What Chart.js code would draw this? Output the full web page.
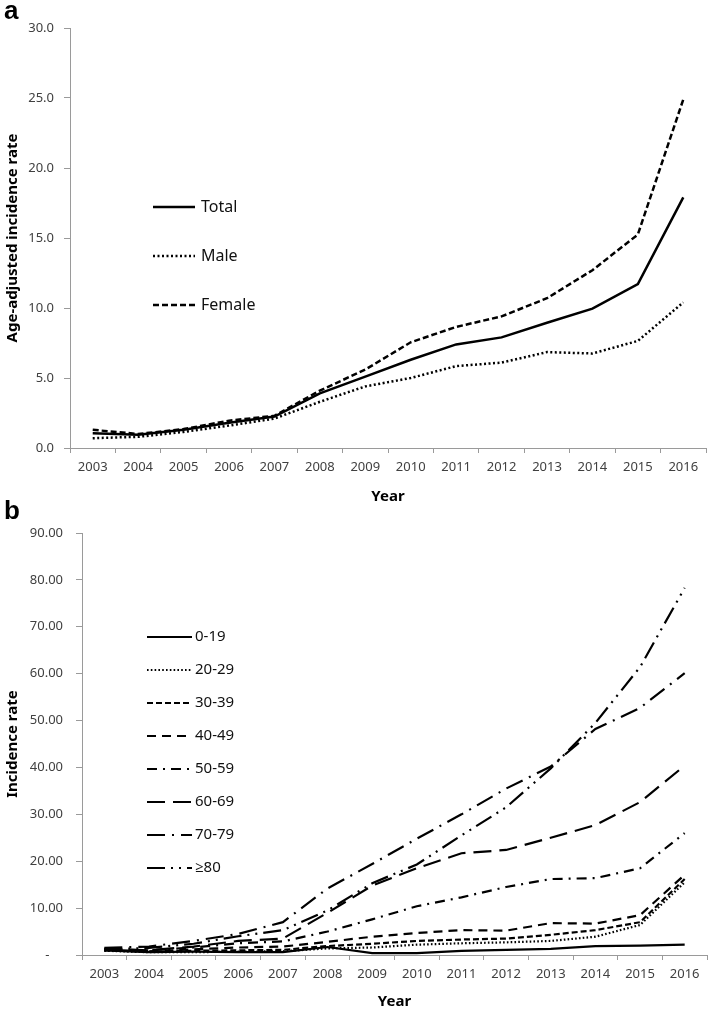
<!DOCTYPE html>
<html>
<head>
<meta charset="utf-8">
<script src="https://cdn.jsdelivr.net/npm/chart.js@4/dist/chart.umd.min.js"></script>
<style>
  html, body { margin:0; padding:0; background:#fff; }
  body { width:709px; height:1011px; position:relative; overflow:hidden; }
  canvas { position:absolute; left:0; }
  #ca { top:0; }
  #cb { top:500px; }
  .panel { position:absolute; left:4px; font-family:"Liberation Sans", Arial, sans-serif; font-weight:bold; font-size:26px; color:#000; line-height:1; }
</style>
</head>
<body>
<canvas id="ca" width="709" height="510" style="width:709px;height:510px"></canvas>
<canvas id="cb" width="709" height="511" style="width:709px;height:511px"></canvas>
<div class="panel" style="top:-3px">a</div>
<div class="panel" style="top:497px">b</div>
<script>
// ---------- Data ----------
const years = ['2003','2004','2005','2006','2007','2008','2009','2010','2011','2012','2013','2014','2015','2016'];

// Panel a: age-adjusted incidence rate
const sexLabels = ['Total','Male','Female'];
const totalRate  = [1.05, 0.95, 1.3, 1.8, 2.25, 3.9, 5.1, 6.3, 7.4, 7.9, 8.95, 9.95, 11.7, 17.9];
const maleRate   = [0.7, 0.8, 1.15, 1.6, 2.1, 3.3, 4.4, 5.0, 5.85, 6.1, 6.85, 6.75, 7.65, 10.4];
const femaleRate = [1.3, 1.0, 1.35, 1.95, 2.3, 4.1, 5.6, 7.55, 8.65, 9.4, 10.7, 12.7, 15.25, 24.9];
const aTicks = [0, 5, 10, 15, 20, 25, 30];

// Panel b: incidence rate by age group
const ageLabels = ['0-19','20-29','30-39','40-49','50-59','60-69','70-79','\u226580'];
const age0_19  = [1.0, 0.6, 0.7, 0.6, 0.6, 1.7, 0.4, 0.4, 0.9, 1.1, 1.3, 1.9, 2.0, 2.2];
const age20_29 = [0.9, 0.6, 0.6, 0.7, 0.8, 1.4, 1.6, 2.2, 2.5, 2.7, 3.0, 3.9, 6.4, 15.5];
const age30_39 = [1.0, 0.7, 0.9, 1.0, 1.1, 1.9, 2.4, 3.0, 3.3, 3.5, 4.3, 5.3, 7.0, 16.2];
const age40_49 = [1.1, 0.8, 1.2, 1.6, 1.8, 2.8, 3.9, 4.7, 5.3, 5.2, 6.8, 6.7, 8.5, 17.1];
const age50_59 = [1.2, 1.0, 1.6, 2.5, 2.9, 5.0, 7.6, 10.4, 12.3, 14.5, 16.2, 16.4, 18.5, 26.0];
const age60_69 = [1.3, 1.0, 1.8, 3.0, 3.5, 9.0, 14.8, 18.5, 21.7, 22.4, 25.0, 27.7, 32.6, 40.4];
const age70_79 = [1.5, 1.8, 3.0, 4.5, 7.0, 14.2, 19.4, 24.8, 30.0, 35.5, 40.2, 48.2, 52.7, 60.1];
const age80p   = [1.2, 1.5, 2.4, 4.0, 5.3, 9.5, 15.3, 19.3, 25.5, 31.5, 39.8, 49.5, 61.4, 78.3];
const bTicks = [0, 10, 20, 30, 40, 50, 60, 70, 80, 90];

// ---------- Helpers ----------
const tickFont = { family: '"Noto Sans", "Open Sans", sans-serif', size: 13 };
const titleFont = { family: '"Noto Sans", "Open Sans", sans-serif', size: 15, weight: 'bold', lineHeight: 1.2 };
const axisGrey = '#9a9a9a';
const tickColor = '#404040';

const lineLegend = {
  id: 'lineLegend',
  afterDraw(chart, args, opts) {
    const ctx = chart.ctx;
    ctx.save();
    chart.data.datasets.forEach((ds, i) => {
      const y = opts.y0 + i * opts.dy;
      ctx.beginPath();
      ctx.setLineDash(ds.borderDash || []);
      ctx.lineDashOffset = 0;
      ctx.lineWidth = ds.borderWidth;
      ctx.strokeStyle = ds.borderColor;
      ctx.lineCap = 'butt';
      ctx.moveTo(opts.x0, y);
      ctx.lineTo(opts.x0 + opts.len, y);
      ctx.stroke();
      ctx.setLineDash([]);
      ctx.fillStyle = '#111';
      ctx.font = opts.font;
      ctx.textBaseline = 'middle';
      ctx.textAlign = 'left';
      ctx.fillText(ds.label, opts.x0 + opts.len + opts.gap, y);
    });
    ctx.restore();
  }
};

function mkDs(label, data, dash, w) {
  return { label, data, borderColor: '#000', borderWidth: w, borderDash: dash,
           borderCapStyle: 'butt', pointRadius: 0, tension: 0, fill: false };
}

function mkOptions(cfg) {
  return {
    responsive: false,
    animation: false,
    layout: { padding: { left: 0, right: cfg.padRight, top: cfg.padTop, bottom: 0 } },
    plugins: {
      legend: { display: false },
      tooltip: { enabled: false },
      lineLegend: cfg.legend
    },
    scales: {
      x: {
        type: 'category',
        offset: true,
        grid: { offset: true, drawOnChartArea: false, drawTicks: true, tickLength: 5, color: axisGrey },
        border: { display: true, color: axisGrey, width: 1 },
        ticks: { font: tickFont, color: tickColor, padding: cfg.xPad, maxRotation: 0, autoSkip: false },
        title: { display: true, text: 'Year', font: titleFont, color: '#000', padding: cfg.xTitlePad },
        afterFit: s => { s.height = cfg.xHeight; }
      },
      y: {
        min: cfg.yMin, max: cfg.yMax,
        afterBuildTicks: s => { s.ticks = cfg.yTicks.map(v => ({ value: v })); },
        grid: { drawOnChartArea: false, drawTicks: true, tickLength: 6, color: axisGrey },
        border: { display: true, color: axisGrey, width: 1 },
        ticks: { font: tickFont, color: tickColor, padding: cfg.yPad, callback: cfg.yFmt },
        title: { display: true, text: cfg.yTitle, font: titleFont, color: '#000', padding: { top: 4, bottom: 0 } },
        afterFit: s => { s.width = cfg.yWidth; }
      }
    }
  };
}

// ---------- Panel a ----------
new Chart(document.getElementById('ca'), {
  type: 'line',
  data: {
    labels: years,
    datasets: [
      mkDs(sexLabels[0], totalRate, [], 2.5),
      mkDs(sexLabels[1], maleRate, [2, 2.5], 2.5),
      mkDs(sexLabels[2], femaleRate, [6, 3], 2.5)
    ]
  },
  options: mkOptions({
    padRight: 3, padTop: 28, xHeight: 62, yWidth: 70, xPad: 6, xTitlePad: { top: 4, bottom: 4 },
    yMin: 0, yMax: 30, yTicks: aTicks, yPad: 10,
    yFmt: v => Number(v).toFixed(1),
    yTitle: 'Age-adjusted incidence rate',
    legend: { x0: 153, len: 42, gap: 6, y0: 207, dy: 49, font: '16px "Noto Sans", "Open Sans", sans-serif' }
  }),
  plugins: [lineLegend]
});

// ---------- Panel b ----------
new Chart(document.getElementById('cb'), {
  type: 'line',
  data: {
    labels: years,
    datasets: [
      mkDs(ageLabels[0], age0_19, [], 2.2),
      mkDs(ageLabels[1], age20_29, [1.6, 2.2], 2.2),
      mkDs(ageLabels[2], age30_39, [6, 3], 2.2),
      mkDs(ageLabels[3], age40_49, [9, 6], 2.2),
      mkDs(ageLabels[4], age50_59, [10, 6, 2, 6], 2.2),
      mkDs(ageLabels[5], age60_69, [18, 8], 2.2),
      mkDs(ageLabels[6], age70_79, [18, 7, 2, 7], 2.2),
      mkDs(ageLabels[7], age80p, [18, 6, 2, 6, 2, 6], 2.2)
    ]
  },
  options: mkOptions({
    padRight: 2, padTop: 33, xHeight: 56, yWidth: 82, xPad: 6, xTitlePad: { top: 2, bottom: 0 },
    yMin: 0, yMax: 90, yTicks: bTicks, yPad: 13,
    yFmt: v => (v === 0 ? '-    ' : Number(v).toFixed(2)),
    yTitle: 'Incidence rate',
    legend: { x0: 147, len: 45, gap: 3, y0: 137, dy: 33, font: '15px "Noto Sans", "Open Sans", sans-serif' }
  }),
  plugins: [lineLegend]
});
</script>
</body>
</html>
